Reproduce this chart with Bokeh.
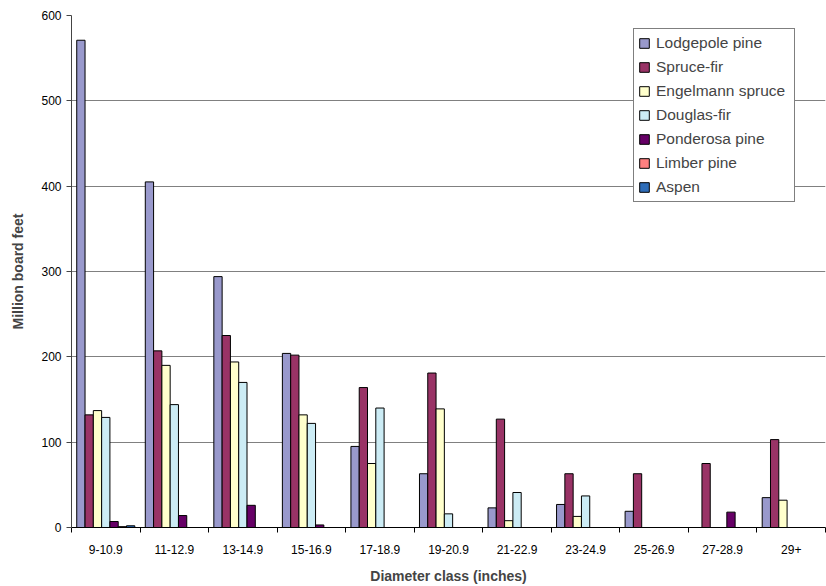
import numpy as np
from bokeh.plotting import figure
from bokeh.models import ColumnDataSource, FixedTicker, Range1d, Legend, LegendItem
from bokeh.transform import dodge
from bokeh.embed import file_html
from bokeh.resources import INLINE

categories = ["9-10.9", "11-12.9", "13-14.9", "15-16.9", "17-18.9", "19-20.9",
              "21-22.9", "23-24.9", "25-26.9", "27-28.9", "29+"]
series_names = ["Lodgepole pine", "Spruce-fir", "Engelmann spruce", "Douglas-fir",
                "Ponderosa pine", "Limber pine", "Aspen"]
lodgepole = [571, 405, 294, 204, 95, 63, 23, 27, 19, 0, 35]
spruce_fir = [132, 207, 225, 202, 164, 181, 127, 63, 63, 75, 103]
engelmann = [137, 190, 194, 132, 75, 139, 8, 13, 0, 0, 32]
douglas = [129, 144, 170, 122, 140, 16, 41, 37, 0, 0, 0]
ponderosa = [7, 14, 26, 3, 0, 0, 0, 0, 0, 18, 0]
limber = [1, 0, 0, 0, 0, 0, 0, 0, 0, 0, 0]
aspen = [2, 0, 0, 0, 0, 0, 0, 0, 0, 0, 0]
y_ticks = [0, 100, 200, 300, 400, 500, 600]

colors = ["#9999CC", "#993366", "#FFFFCC", "#CCECF5", "#660066", "#FF8080", "#2F6DB8"]
values = [lodgepole, spruce_fir, engelmann, douglas, ponderosa, limber, aspen]

x = np.arange(len(categories)) + 0.5
data = {"x": x}
keys = ["s%d" % i for i in range(len(series_names))]
for k, v in zip(keys, values):
    data[k] = v
src = ColumnDataSource(data)

p = figure(width=826, height=586, output_backend="svg", toolbar_location=None,
           x_range=Range1d(0, len(categories)), y_range=Range1d(0, 600))
p.min_border_left = 71
p.min_border_right = 1
p.min_border_top = 15
p.min_border_bottom = 59
p.outline_line_color = None
p.background_fill_color = "white"
p.border_fill_color = "white"

bw = 0.121
items = []
for i, (k, name, c) in enumerate(zip(keys, series_names, colors)):
    r = p.vbar(x=dodge("x", (i - 3) * bw, range=p.x_range), top=k, width=bw,
               source=src, fill_color=c, line_color="black", line_width=1)
    items.append(LegendItem(label=name, renderers=[r]))

legend = Legend(items=items, location=(562, 325))
legend.border_line_color = "black"
legend.border_line_width = 1
legend.background_fill_alpha = 1
legend.label_text_font = "Liberation Sans"
legend.label_text_font_size = "15.5px"
legend.glyph_height = 12
legend.glyph_width = 12
legend.label_height = 20
legend.label_width = 134
legend.spacing = 4
legend.padding = 4
legend.margin = 0
legend.label_standoff = 6
p.add_layout(legend, "center")

# y axis
p.yaxis.ticker = FixedTicker(ticks=y_ticks)
p.yaxis.minor_tick_line_color = None
p.yaxis.major_tick_out = 5
p.yaxis.major_tick_in = 0
p.yaxis.axis_line_color = "#444444"
p.yaxis.major_tick_line_color = "#444444"
p.yaxis.major_label_text_font = "Liberation Sans"
p.yaxis.major_label_text_font_size = "12px"
p.yaxis.major_label_text_color = "black"
p.yaxis.axis_label = "Million board feet"
p.yaxis.axis_label_text_font = "Liberation Sans"
p.yaxis.axis_label_text_font_size = "14px"
p.yaxis.axis_label_text_font_style = "bold"
p.yaxis.axis_label_standoff = 12

# x axis
p.xaxis.ticker = FixedTicker(ticks=list(x), minor_ticks=list(range(len(categories) + 1)))
p.xaxis.major_label_overrides = {float(xx): c for xx, c in zip(x, categories)}
p.xaxis.major_tick_out = 0
p.xaxis.major_tick_in = 0
p.xaxis.minor_tick_out = 5
p.xaxis.minor_tick_in = 0
p.xaxis.minor_tick_line_color = "black"
p.xaxis.axis_line_color = "black"
p.xaxis.major_label_text_font = "Liberation Sans"
p.xaxis.major_label_text_font_size = "12px"
p.xaxis.major_label_text_color = "black"
p.xaxis.major_label_standoff = 12
p.xaxis.axis_label = "Diameter class (inches)"
p.xaxis.axis_label_text_font = "Liberation Sans"
p.xaxis.axis_label_text_font_size = "14px"
p.xaxis.axis_label_text_font_style = "bold"
p.xaxis.axis_label_standoff = 11

p.xgrid.grid_line_color = None
p.ygrid.ticker = FixedTicker(ticks=y_ticks)
p.ygrid.grid_line_color = "#808080"
p.ygrid.grid_line_width = 1

open("out.html", "w").write(file_html(p, INLINE))
